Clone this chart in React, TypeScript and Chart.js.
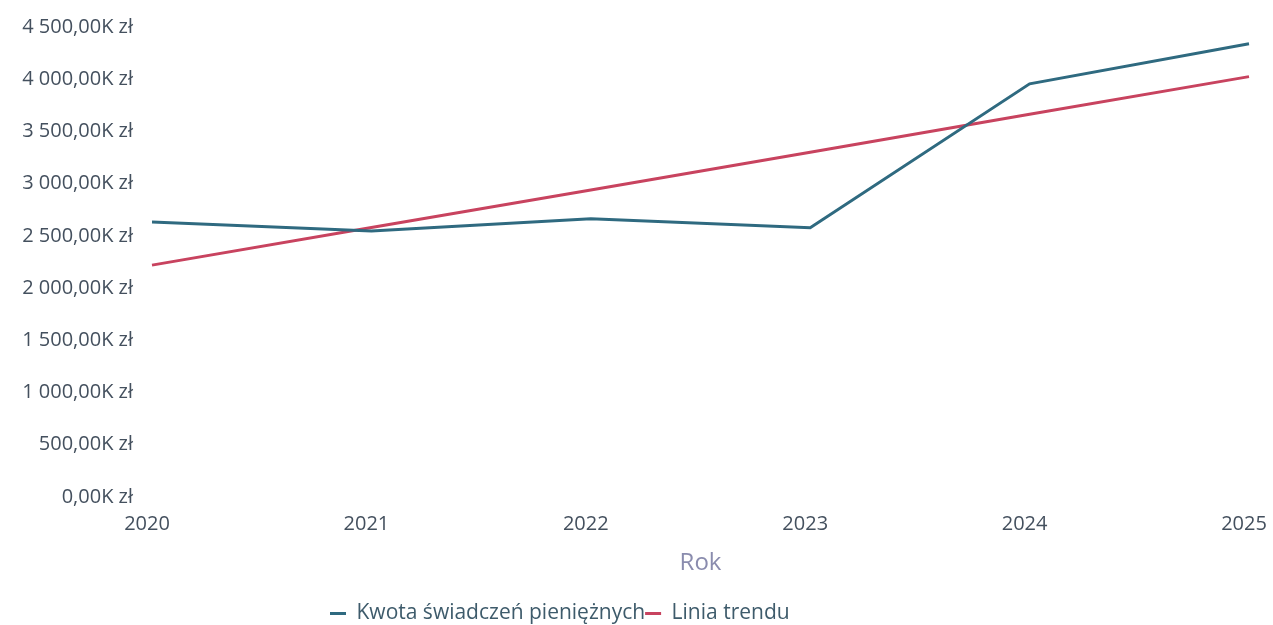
import React, { useEffect, useRef } from "react";
import { Chart, registerables } from "chart.js";

Chart.register(...registerables);

// Data (values in thousands of zł)
const years = ["2020", "2021", "2022", "2023", "2024", "2025"];
const kwotaSwiadczen = [2634, 2548, 2663, 2577, 3956, 4339];
const liniaTrendu = [2220, 2580, 2940, 3300, 3665, 4025];
const yTickMin = 0;
const yTickMax = 4500;
const yTickStep = 500;

const seriesNames = ["Kwota świadczeń pieniężnych", "Linia trendu"];
const xTitle = "Rok";

function formatPLN(v: number): string {
  const s = Math.abs(v).toFixed(2);
  const [intPart, dec] = s.split(".");
  const withSep = intPart.replace(/\B(?=(\d{3})+(?!\d))/g, " ");
  return (v < 0 ? "-" : "") + withSep + "," + dec + "K zł";
}

const FONT = "'Open Sans', 'Noto Sans', sans-serif";

export default function App() {
  const canvasRef = useRef<HTMLCanvasElement | null>(null);

  useEffect(() => {
    if (!canvasRef.current) return;
    const legendPlacer = {
      id: "legendPlacer",
      afterLayout(chart: any) {
        const lg = chart.legend;
        if (!lg || !lg.lineWidths) return;
        const lw = lg.lineWidths[0];
        const h = lg.bottom - lg.top;
        lg.left = 330;
        lg.right = 330 + lw;
        lg.top = 603;
        lg.bottom = 603 + h;
      },
    };
    const chart = new Chart(canvasRef.current, {
      type: "line",
      data: {
        labels: years,
        datasets: [
          {
            label: seriesNames[0],
            data: kwotaSwiadczen,
            borderColor: "#2F6A80",
            backgroundColor: "#2F6A80",
            borderWidth: 3,
            pointRadius: 0,
            tension: 0,
          },
          {
            label: seriesNames[1],
            data: liniaTrendu,
            borderColor: "#C8435F",
            backgroundColor: "#C8435F",
            borderWidth: 3,
            pointRadius: 0,
            tension: 0,
          },
        ],
      },
      options: {
        animation: false,
        responsive: true,
        maintainAspectRatio: false,
        layout: { padding: { top: 27, right: 24, bottom: 16, left: 0 } },
        plugins: {
          tooltip: { enabled: false },
          legend: {
            position: "bottom",
            labels: {
              boxWidth: 16,
              boxHeight: 3,
              padding: 0,
              color: "#3E5B6B",
              font: { family: FONT, size: 21 },
              generateLabels(chart: any) {
                const items = Chart.defaults.plugins.legend.labels.generateLabels(chart);
                return items.map((it: any) => ({ ...it, lineWidth: 0, fillStyle: it.strokeStyle }));
              },
            },
          },
        },
        scales: {
          x: {
            type: "category",
            offset: false,
            grid: { display: false, drawTicks: false },
            border: { display: false },
            ticks: {
              color: "#44505E",
              font: { family: FONT, size: 20 },
              padding: 15,
              labelOffset: -5,
              maxRotation: 0,
            },
            title: {
              display: true,
              text: xTitle,
              color: "#8A8CAE",
              font: { family: FONT, size: 24 },
              padding: 0,
            },
            afterFit(scale: any) {
              scale.height = 81;
              scale.paddingLeft = 0;
              scale.paddingRight = 0;
            },
          },
          y: {
            min: yTickMin,
            max: yTickMax,
            grid: { display: false, drawTicks: false },
            border: { display: false },
            ticks: {
              stepSize: yTickStep,
              color: "#44505E",
              font: { family: FONT, size: 20 },
              padding: 19,
              callback: (v: any) => formatPLN(Number(v)),
            },
            afterFit(scale: any) {
              scale.width = 152;
              scale.paddingTop = 0;
              scale.paddingBottom = 0;
            },
          },
        },
      },
      plugins: [legendPlacer],
    });
    return () => chart.destroy();
  }, []);

  return (
    <div style={{ position: "absolute", left: 0, top: 0, width: 1273, height: 625, background: "#fff" }}>
      <canvas ref={canvasRef} />
    </div>
  );
}
